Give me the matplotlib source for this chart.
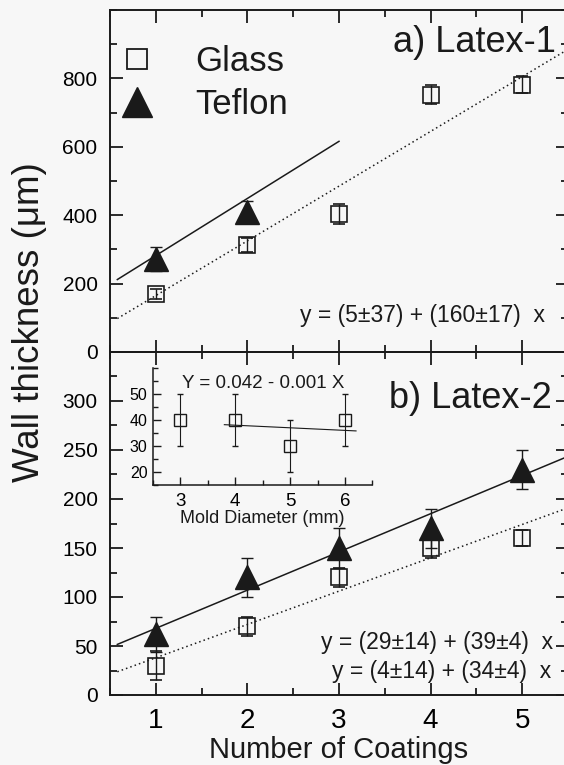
import numpy as np
import matplotlib
matplotlib.use("Agg")
import matplotlib.pyplot as plt
from matplotlib.lines import Line2D
from matplotlib.ticker import MultipleLocator

plt.rcParams['font.family'] = ['Liberation Sans', 'DejaVu Sans']

# Data: a) Latex-1
coats = [1, 2, 3, 4, 5]
glass1 = [170, 312, 403, 752, 782]
glass1_err = [15, 20, 30, 28, 25]
teflon1_x = [1, 2]
teflon1 = [273, 410]
teflon1_err = [35, 32]
fit_glass1 = (5, 160)      # intercept, slope
fit_teflon1 = (115, 167)

# b) Latex-2
glass2 = [30, 70, 120, 150, 160]
glass2_err = [15, 10, 10, 10, 8]
teflon2 = [62, 120, 150, 170, 230]
teflon2_err = [18, 20, 20, 20, 20]
fit_glass2 = (4, 34)
fit_teflon2 = (29, 39)

# inset: mold diameter
diam = [3, 4, 5, 6]
diam_thick = [40, 40, 30, 40]
diam_err = [10, 10, 10, 10]
fit_diam = (42, -1)

ink = '#1a1a1a'
bg = '#f7f7f7'

fig = plt.figure(figsize=(5.64, 7.65), dpi=100, facecolor=bg)
L, W = 110 / 564, 458 / 564
ax1 = fig.add_axes([L, 1 - 352 / 765, W, 342 / 765])
ax2 = fig.add_axes([L, 1 - 695 / 765, W, 343 / 765])


def style(ax):
    ax.set_facecolor('none')
    for s in ax.spines.values():
        s.set_linewidth(1.4)
        s.set_color(ink)
    ax.set_xlim(0.5, 5.5)
    ax.xaxis.set_major_locator(MultipleLocator(1))
    ax.xaxis.set_minor_locator(MultipleLocator(0.5))
    ax.tick_params(which='both', direction='in', top=True, right=True,
                   color=ink, width=1.3)
    ax.tick_params(which='major', length=9, pad=9)
    ax.tick_params(which='minor', length=5)
    ax.tick_params(axis='y', labelsize=15)
    ax.tick_params(axis='x', labelsize=20)


style(ax1)
style(ax2)

mk = dict(color=ink, ls='none', capsize=4, elinewidth=1.0, capthick=1.0)
xs = np.linspace(0.58, 5.5, 50)

# panel a
ax1.errorbar(coats, glass1, yerr=glass1_err, marker='s', ms=11, mfc='none',
             mec=ink, mew=1.2, **mk)
ax1.errorbar(teflon1_x, teflon1, yerr=teflon1_err, marker='^', ms=17,
             mfc=ink, mec=ink, **mk)
ax1.plot(xs, fit_glass1[0] + fit_glass1[1] * xs, ls=(0, (1, 2)), lw=1.1, color=ink)
xt = np.linspace(0.58, 3.0, 10)
ax1.plot(xt, fit_teflon1[0] + fit_teflon1[1] * xt, lw=1.1, color=ink)
ax1.set_ylim(0, 1000)
ax1.set_yticks([0, 200, 400, 600, 800])
ax1.yaxis.set_minor_locator(MultipleLocator(100))
ax1.tick_params(axis='x', labelbottom=False)
ax1.text(0.974, 0.906, 'a) Latex-1', transform=ax1.transAxes, ha='right',
         va='center', fontsize=26, color=ink)
ax1.text(0.95, 0.108, 'y = (5\u00b137) + (160\u00b117)  x', transform=ax1.transAxes,
         ha='right', va='center', fontsize=16.5, color=ink)

handles = [Line2D([], [], marker='s', ls='none', ms=14, mfc='none', mec=ink, mew=1.3),
           Line2D([], [], marker='^', ls='none', ms=21, mfc=ink, mec=ink)]
ax1.legend(handles, ['Glass', 'Teflon'], loc='upper left',
           bbox_to_anchor=(0.02, 0.898), frameon=False, fontsize=25,
           handlelength=1.0, handletextpad=1.2, labelspacing=0.29,
           borderpad=0, borderaxespad=0, labelcolor=ink)

# panel b
ax2.errorbar(coats, glass2, yerr=glass2_err, marker='s', ms=11, mfc='none',
             mec=ink, mew=1.2, **mk)
ax2.errorbar(coats, teflon2, yerr=teflon2_err, marker='^', ms=17,
             mfc=ink, mec=ink, **mk)
ax2.plot(xs, fit_glass2[0] + fit_glass2[1] * xs, ls=(0, (1, 2)), lw=1.1, color=ink)
ax2.plot(xs, fit_teflon2[0] + fit_teflon2[1] * xs, lw=1.1, color=ink)
ax2.set_ylim(0, 350)
ax2.set_yticks([0, 50, 100, 150, 200, 250, 300])
ax2.yaxis.set_minor_locator(MultipleLocator(25))
ax2.text(0.965, 0.865, 'b) Latex-2', transform=ax2.transAxes, ha='right',
         va='center', fontsize=26, color=ink)
ax2.text(0.968, 0.152, 'y = (29\u00b114) + (39\u00b14)  x', transform=ax2.transAxes,
         ha='right', va='center', fontsize=16.5, color=ink)
ax2.text(0.963, 0.068, 'y = (4\u00b114) + (34\u00b14)  x', transform=ax2.transAxes,
         ha='right', va='center', fontsize=16.5, color=ink)
ax2.set_xlabel('Number of Coatings', fontsize=21, color=ink, labelpad=2)

fig.text(30 / 564, 1 - 322 / 765, 'Wall thickness (\u03bcm)', rotation=90,
         ha='center', va='center', fontsize=26.5, color=ink)

# inset
ins = fig.add_axes([153 / 564, 1 - 485 / 765, 219.5 / 564, 117 / 765])
ins.set_facecolor('none')
for s in ['top', 'right']:
    ins.spines[s].set_visible(False)
for s in ['left', 'bottom']:
    ins.spines[s].set_linewidth(1.1)
    ins.spines[s].set_color(ink)
ins.errorbar(diam, diam_thick, yerr=diam_err, marker='s', ms=8, mfc='none',
             mec=ink, mew=1.0, color=ink, ls='none', capsize=2.5,
             elinewidth=0.8, capthick=0.8)
xd = np.linspace(3.8, 6.2, 10)
ins.plot(xd, fit_diam[0] + fit_diam[1] * xd, lw=0.8, color=ink)
ins.set_xlim(2.5, 6.5)
ins.set_ylim(15, 60)
ins.set_xticks([3, 4, 5, 6])
ins.xaxis.set_minor_locator(MultipleLocator(0.5))
ins.set_yticks([20, 30, 40, 50])
ins.yaxis.set_minor_locator(MultipleLocator(5))
ins.tick_params(which='both', direction='in', color=ink, width=1.0)
ins.tick_params(which='major', length=6, pad=4)
ins.tick_params(which='minor', length=3.5)
ins.tick_params(axis='x', labelsize=13.5, pad=6)
ins.tick_params(axis='y', labelsize=11.5)
ins.set_xlabel('Mold Diameter (mm)', fontsize=13, color=ink, labelpad=0)
ins.text(0.5, 0.87, 'Y = 0.042 - 0.001 X', transform=ins.transAxes, ha='center',
         va='center', fontsize=13.5, color=ink)

fig.savefig('out.png', dpi=100, facecolor=bg)
